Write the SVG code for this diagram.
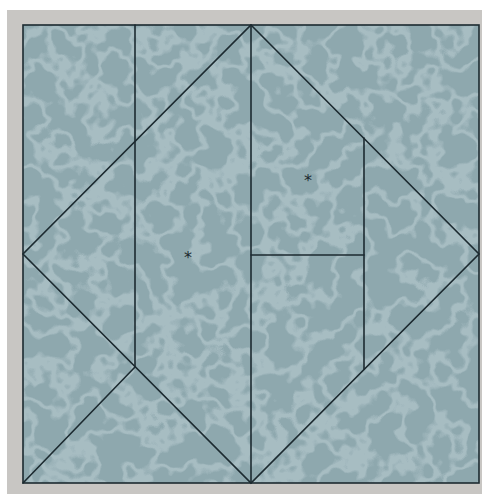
<svg xmlns="http://www.w3.org/2000/svg" width="482" height="494" viewBox="0 0 482 494">
<defs>
<style>
.ln{stroke:#1c2a30;stroke-width:1.6;fill:none;stroke-linecap:round}
.ast{font-family:"DejaVu Sans",sans-serif;font-size:16px;fill:#1c2a30;text-anchor:middle}
</style>
<filter id="marble" x="0" y="0" width="100%" height="100%">
<feTurbulence type="fractalNoise" baseFrequency="0.03" numOctaves="3" seed="7" result="n"/>
<feColorMatrix in="n" type="matrix" values="0 0 0 0 0.72  0 0 0 0 0.82  0 0 0 0 0.86  1 0 0 0 0" result="a"/>
<feComponentTransfer in="a" result="v">
<feFuncA type="table" tableValues="0 0 0 0 0 0 0 0 0.9 0.9 0 0 0 0 0 0 0 0"/>
</feComponentTransfer>
<feGaussianBlur in="v" stdDeviation="0.6" result="b"/>
<feComposite in="b" in2="SourceGraphic" operator="in"/>
</filter>
</defs>
<rect x="0" y="0" width="482" height="494" fill="#ffffff"/>
<rect x="7" y="10" width="475" height="484" fill="#c8c6c3"/>
<g id="board">
<rect x="23" y="25" width="456" height="458" fill="#8ea8ae"/>
<rect x="23" y="25" width="456" height="458" fill="#8ea8ae" filter="url(#marble)" opacity="0.35"/>
</g>
<g id="connectors">
<rect class="ln" x="23" y="25" width="456" height="458"/>
<polygon class="ln" points="251,25 479,254 251,483 23,254"/>
<line class="ln" x1="251" y1="25" x2="251" y2="483"/>
<line class="ln" x1="135" y1="25" x2="135" y2="367"/>
<line class="ln" x1="23" y1="483" x2="135" y2="367"/>
<line class="ln" x1="364" y1="138" x2="364" y2="369"/>
<line class="ln" x1="251" y1="255" x2="364" y2="255"/>
</g>
<g id="marks">
<text class="ast" x="188" y="263">*</text>
<text class="ast" x="308" y="186">*</text>
</g>
</svg>
